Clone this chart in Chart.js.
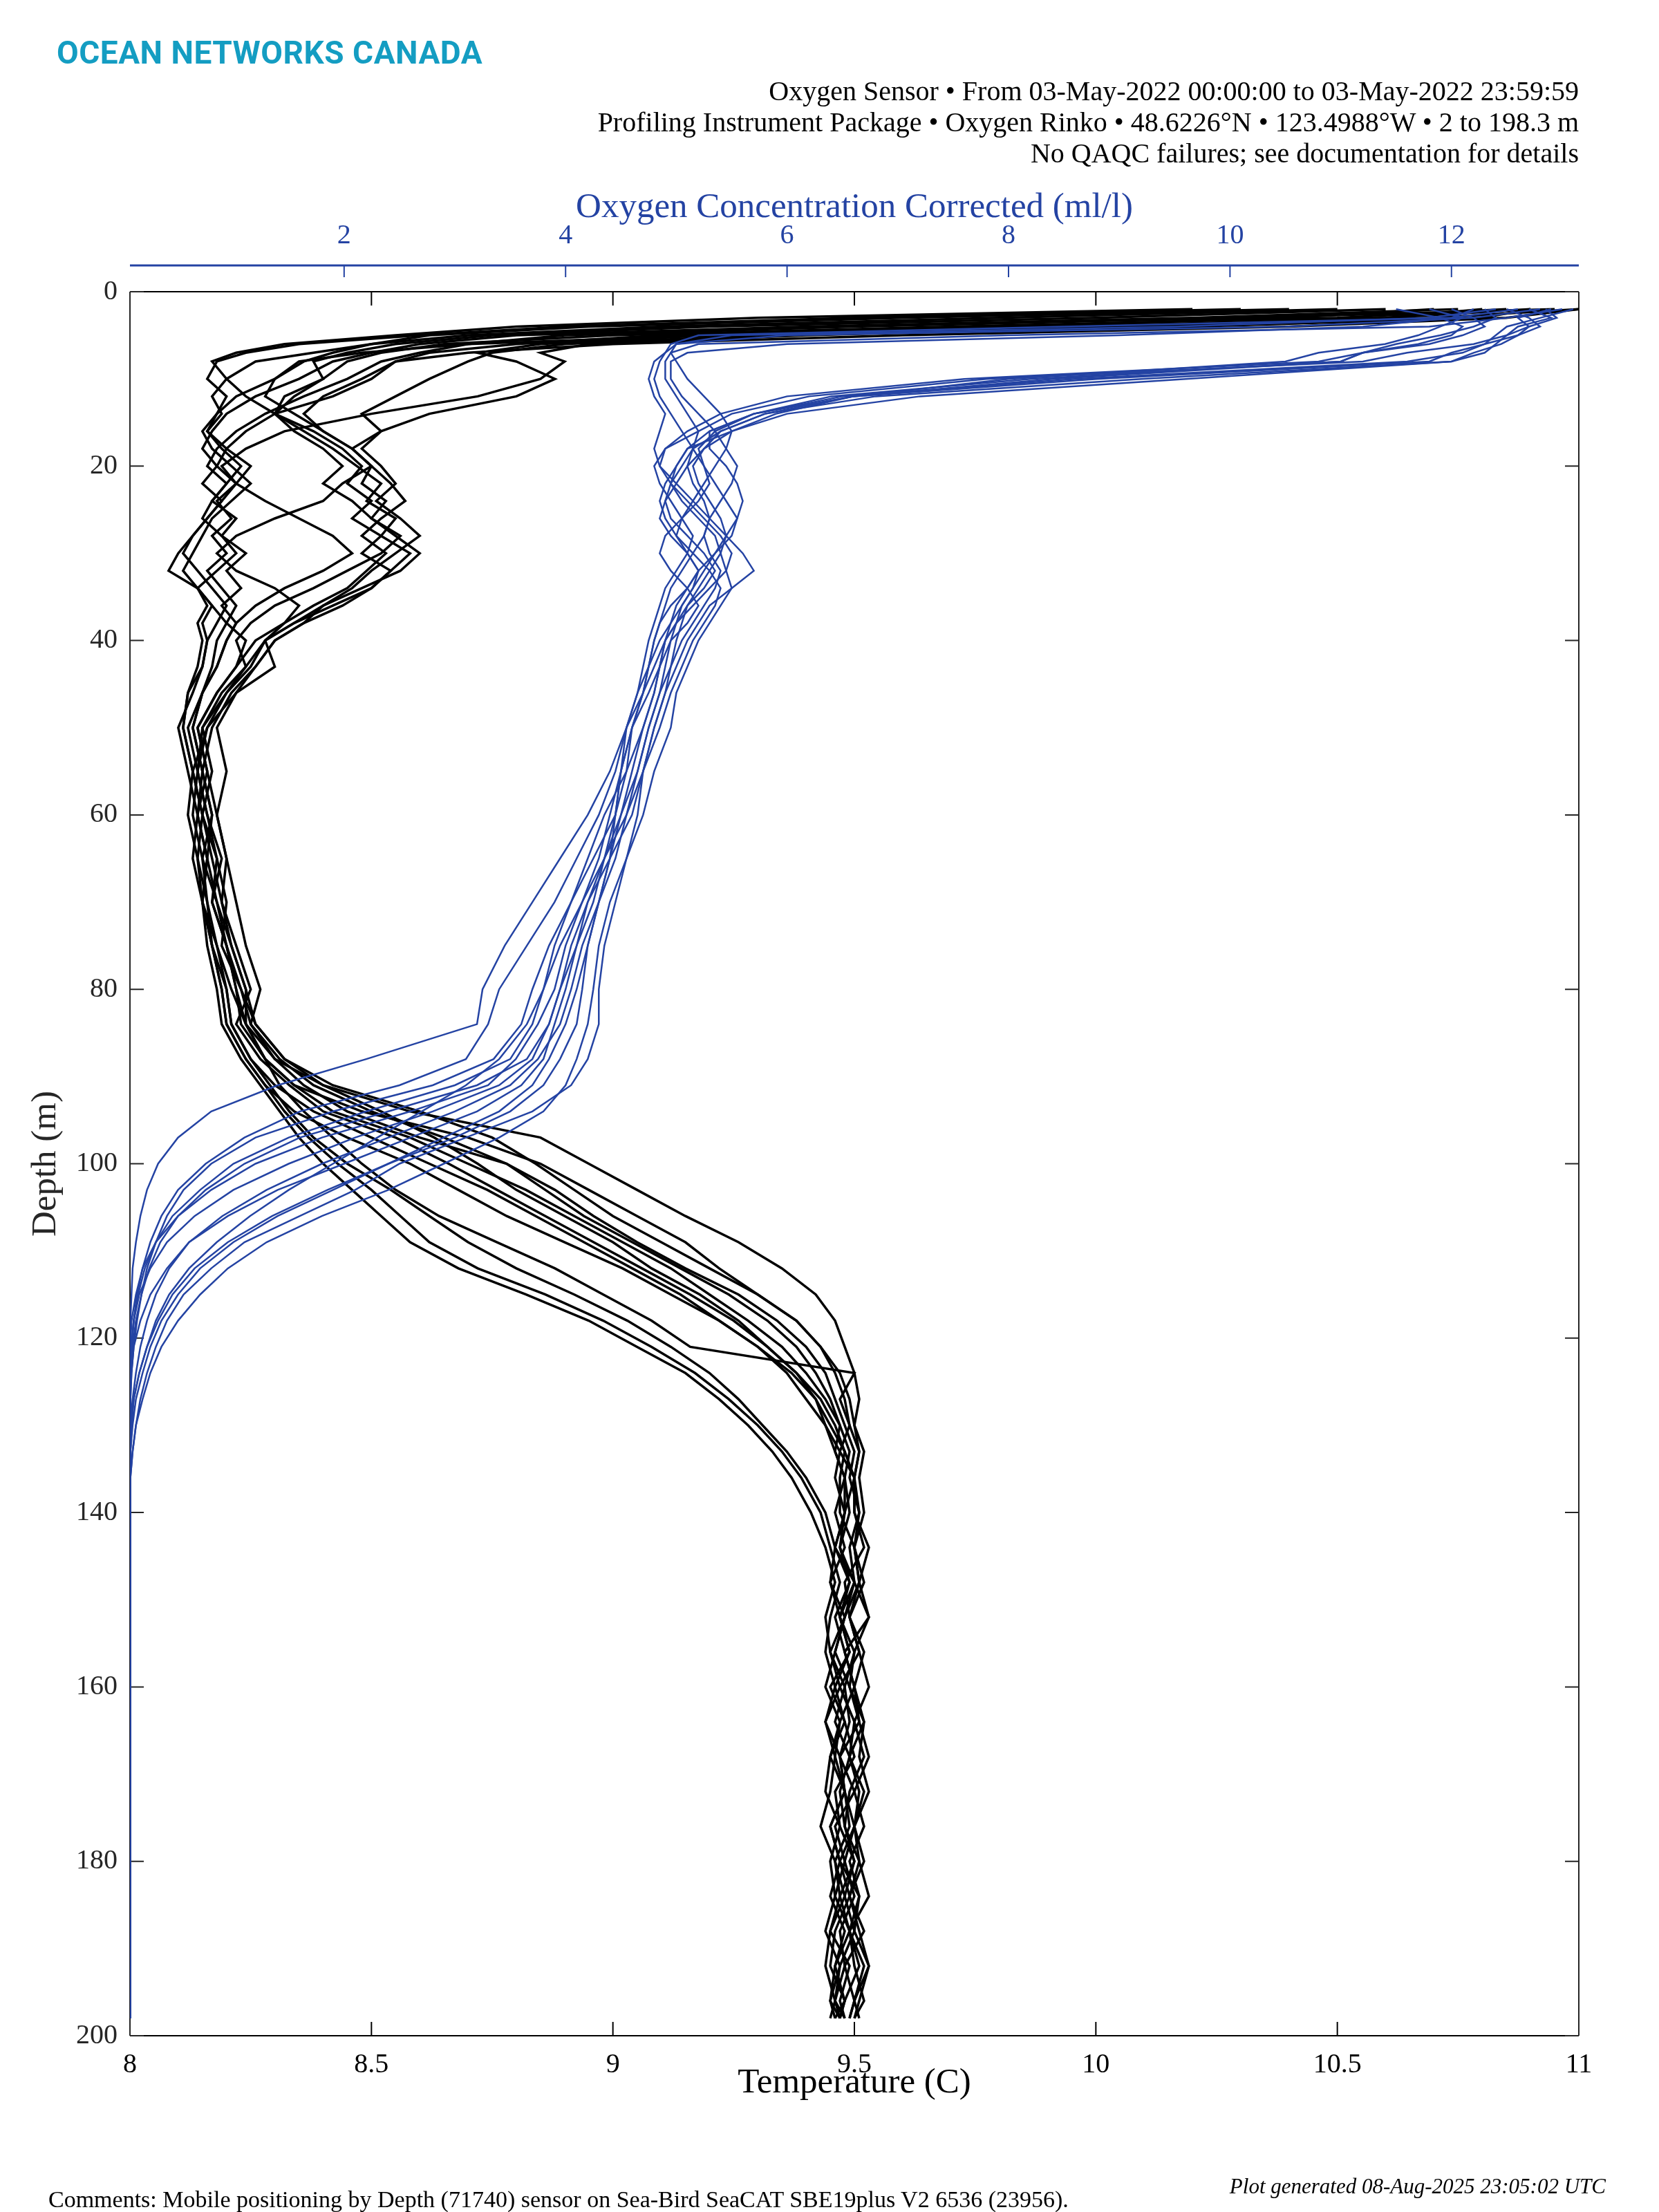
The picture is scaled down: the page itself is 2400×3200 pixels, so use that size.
<!DOCTYPE html>
<html>
<head>
<meta charset="utf-8">
<title>Oxygen Sensor profiles</title>
<script src="https://cdn.jsdelivr.net/npm/chart.js"></script>
<style>
  html, body { margin: 0; padding: 0; background: #fff; }
  #wrap { position: relative; width: 2400px; height: 3200px; }
  #chart { position: absolute; left: 0; top: 0; }
  .t { position: absolute; white-space: nowrap; line-height: 1; font-family: "Liberation Serif", serif; color: #000; }
  .logo { left: 82px; top: 53px; font: 700 46px Roboto, sans-serif; letter-spacing: 0.5px; color: #149dc2; line-height: 1; position: absolute; white-space: nowrap; }
  .hdr { right: 116px; font-size: 40px; }
  .cmt { left: 70px; top: 3165px; font-size: 34px; }
  .gen { right: 77px; top: 3147px; font-size: 31px; font-style: italic; }
</style>
</head>
<body>
<div id="wrap">
  <canvas id="chart" width="2400" height="3200"></canvas>
  <div class="logo">OCEAN NETWORKS CANADA</div>
  <div class="t hdr" style="top:112px">Oxygen Sensor • From 03-May-2022 00:00:00 to 03-May-2022 23:59:59</div>
  <div class="t hdr" style="top:157px">Profiling Instrument Package • Oxygen Rinko • 48.6226°N • 123.4988°W • 2 to 198.3 m</div>
  <div class="t hdr" style="top:202px">No QAQC failures; see documentation for details</div>
  <div class="t cmt">Comments: Mobile positioning by Depth (71740) sensor on Sea-Bird SeaCAT SBE19plus V2 6536 (23956).</div>
  <div class="t gen">Plot generated 08-Aug-2025 23:05:02 UTC</div>
</div>
<script>
// depth levels (m) shared by every cast
const DEPTH = [2, 3, 4, 5, 6, 7, 8,
  10, 12, 14, 16, 18, 20, 22, 24, 26, 28, 30, 32, 34, 36, 38, 40,
  43, 46, 50, 55, 60, 65, 70, 75, 80,
  84, 88, 91, 94, 97, 100, 103, 106, 109, 112, 115, 118, 121, 124, 127, 130, 133, 136,
  140, 144, 148, 152, 156, 160, 164, 168, 172, 176, 180, 184, 188, 192, 196, 198];

const TEMP_TICKS = [8, 8.5, 9, 9.5, 10, 10.5, 11];
const OXY_TICKS = [2, 4, 6, 8, 10, 12];
const DEPTH_TICKS = [0, 20, 40, 60, 80, 100, 120, 140, 160, 180, 200];

// temperature (C), one array per cast
const temp01 = [11.00, 10.70, 9.90, 9.10, 8.80, 8.62, 8.55,
  8.48, 8.40, 8.36, 8.40, 8.46, 8.50, 8.48, 8.53, 8.50, 8.56, 8.52, 8.45, 8.38, 8.30, 8.25, 8.22,
  8.24, 8.20, 8.15, 8.17, 8.15, 8.18, 8.20, 8.19, 8.23,
  8.26, 8.32, 8.40, 8.52, 8.63, 8.72, 8.80, 8.90, 9.00, 9.08, 9.18, 9.26, 9.32, 9.38, 9.42, 9.44, 9.47, 9.46,
  9.48, 9.46, 9.50, 9.47, 9.49, 9.45, 9.48, 9.50, 9.46, 9.47, 9.50, 9.48, 9.45, 9.49, 9.47, 9.48];
const temp02 = [10.95, 10.30, 9.50, 8.90, 8.70, 8.60, 8.52,
  8.45, 8.36, 8.28, 8.22, 8.18, 8.16, 8.20, 8.17, 8.22, 8.19, 8.24, 8.20, 8.23, 8.19, 8.22, 8.20,
  8.18, 8.15, 8.13, 8.15, 8.17, 8.15, 8.18, 8.21, 8.24,
  8.24, 8.30, 8.36, 8.45, 8.60, 8.78, 8.88, 8.96, 9.05, 9.15, 9.26, 9.34, 9.40, 9.44, 9.46, 9.48, 9.50, 9.49,
  9.51, 9.49, 9.50, 9.53, 9.48, 9.50, 9.52, 9.49, 9.51, 9.50, 9.47, 9.51, 9.49, 9.52, 9.50, 9.49];
const temp03 = [10.90, 10.80, 10.20, 9.30, 8.90, 8.75, 8.70,
  8.62, 8.55, 8.48, 8.52, 8.46, 8.50, 8.44, 8.40, 8.30, 8.22, 8.18, 8.22, 8.30, 8.35, 8.32, 8.28,
  8.30, 8.22, 8.16, 8.14, 8.16, 8.19, 8.17, 8.20, 8.22,
  8.24, 8.28, 8.34, 8.48, 8.70, 8.85, 8.95, 9.05, 9.15, 9.22, 9.30, 9.38, 9.43, 9.47, 9.49, 9.50, 9.51, 9.50,
  9.50, 9.52, 9.48, 9.49, 9.51, 9.47, 9.50, 9.52, 9.49, 9.48, 9.51, 9.49, 9.52, 9.48, 9.50, 9.49];
const temp04 = [10.85, 10.50, 9.70, 9.00, 8.65, 8.52, 8.45,
  8.40, 8.34, 8.30, 8.36, 8.42, 8.47, 8.52, 8.49, 8.55, 8.52, 8.58, 8.54, 8.50, 8.42, 8.34, 8.28,
  8.25, 8.20, 8.16, 8.13, 8.15, 8.17, 8.19, 8.22, 8.25,
  8.22, 8.27, 8.33, 8.40, 8.55, 8.66, 8.76, 8.86, 8.96, 9.06, 9.16, 9.25, 9.32, 9.38, 9.43, 9.46, 9.48, 9.47,
  9.47, 9.50, 9.51, 9.48, 9.46, 9.49, 9.51, 9.47, 9.48, 9.50, 9.48, 9.46, 9.49, 9.51, 9.48, 9.47];
const temp05 = [10.80, 10.60, 10.10, 9.40, 8.95, 8.85, 8.90,
  8.85, 8.72, 8.50, 8.32, 8.24, 8.19, 8.22, 8.18, 8.21, 8.17, 8.20, 8.16, 8.19, 8.22, 8.20, 8.24,
  8.22, 8.18, 8.14, 8.16, 8.14, 8.16, 8.15, 8.18, 8.20,
  8.21, 8.25, 8.30, 8.38, 8.50, 8.62, 8.74, 8.84, 8.94, 9.04, 9.14, 9.22, 9.30, 9.36, 9.40, 9.44, 9.46, 9.48,
  9.48, 9.47, 9.49, 9.46, 9.48, 9.50, 9.47, 9.45, 9.48, 9.49, 9.46, 9.48, 9.50, 9.47, 9.46, 9.48];
const temp06 = [10.75, 10.20, 9.40, 8.80, 8.60, 8.50, 8.42,
  8.35, 8.26, 8.20, 8.17, 8.15, 8.18, 8.15, 8.19, 8.16, 8.13, 8.10, 8.08, 8.14, 8.17, 8.15, 8.16,
  8.15, 8.12, 8.11, 8.13, 8.15, 8.14, 8.16, 8.17, 8.19,
  8.20, 8.24, 8.28, 8.34, 8.45, 8.58, 8.68, 8.78, 8.90, 9.02, 9.12, 9.22, 9.30, 9.37, 9.42, 9.45, 9.48, 9.50,
  9.51, 9.50, 9.52, 9.49, 9.51, 9.53, 9.50, 9.49, 9.52, 9.50, 9.51, 9.53, 9.49, 9.50, 9.52, 9.50];
const temp07 = [10.70, 10.40, 9.80, 9.20, 8.85, 8.72, 8.80,
  8.88, 8.80, 8.62, 8.52, 8.48, 8.52, 8.55, 8.51, 8.56, 8.60, 8.55, 8.50, 8.46, 8.40, 8.36, 8.30,
  8.26, 8.22, 8.18, 8.20, 8.18, 8.20, 8.22, 8.24, 8.27,
  8.25, 8.30, 8.40, 8.58, 8.85, 8.95, 9.05, 9.15, 9.26, 9.35, 9.42, 9.46, 9.48, 9.50, 9.51, 9.50, 9.52, 9.51,
  9.52, 9.50, 9.51, 9.53, 9.50, 9.49, 9.52, 9.51, 9.53, 9.50, 9.52, 9.49, 9.51, 9.53, 9.50, 9.51];
const temp08 = [10.60, 10.00, 9.20, 8.75, 8.55, 8.45, 8.38,
  8.40, 8.32, 8.30, 8.34, 8.40, 8.44, 8.40, 8.46, 8.50, 8.55, 8.60, 8.56, 8.48, 8.40, 8.34, 8.28,
  8.24, 8.19, 8.15, 8.14, 8.16, 8.18, 8.17, 8.20, 8.22,
  8.23, 8.28, 8.34, 8.42, 8.58, 8.70, 8.82, 8.92, 9.02, 9.12, 9.20, 9.28, 9.35, 9.40, 9.44, 9.47, 9.49, 9.48,
  9.49, 9.47, 9.50, 9.48, 9.45, 9.48, 9.49, 9.47, 9.50, 9.46, 9.48, 9.50, 9.47, 9.48, 9.46, 9.47];
const temp09 = [10.50, 9.80, 9.10, 8.70, 8.50, 8.38, 8.26,
  8.20, 8.17, 8.19, 8.16, 8.19, 8.23, 8.20, 8.17, 8.15, 8.19, 8.22, 8.18, 8.14, 8.17, 8.20, 8.18,
  8.17, 8.15, 8.13, 8.15, 8.17, 8.16, 8.18, 8.20, 8.23,
  8.25, 8.31, 8.38, 8.50, 8.65, 8.78, 8.86, 8.94, 9.04, 9.14, 9.24, 9.32, 9.38, 9.42, 9.45, 9.47, 9.46, 9.48,
  9.46, 9.48, 9.45, 9.47, 9.49, 9.46, 9.44, 9.47, 9.48, 9.45, 9.47, 9.49, 9.46, 9.45, 9.48, 9.46];
const temp10 = [10.40, 9.60, 8.95, 8.62, 8.50, 8.42, 8.36,
  8.30, 8.28, 8.34, 8.40, 8.46, 8.50, 8.54, 8.57, 8.52, 8.48, 8.53, 8.49, 8.45, 8.38, 8.32, 8.26,
  8.22, 8.18, 8.14, 8.16, 8.18, 8.20, 8.19, 8.21, 8.24,
  8.26, 8.32, 8.42, 8.60, 8.75, 8.84, 8.92, 9.00, 9.10, 9.20, 9.30, 9.38, 9.43, 9.46, 9.48, 9.49, 9.51, 9.50,
  9.50, 9.53, 9.51, 9.49, 9.52, 9.50, 9.51, 9.53, 9.50, 9.52, 9.49, 9.51, 9.50, 9.53, 9.51, 9.50];
const temp11 = [10.30, 9.50, 8.90, 8.60, 8.35, 8.24, 8.18,
  8.16, 8.20, 8.18, 8.15, 8.17, 8.21, 8.25, 8.21, 8.17, 8.15, 8.13, 8.11, 8.14, 8.16, 8.14, 8.15,
  8.14, 8.12, 8.11, 8.13, 8.12, 8.14, 8.15, 8.16, 8.18,
  8.19, 8.23, 8.27, 8.31, 8.35, 8.40, 8.46, 8.52, 8.58, 8.68, 8.82, 8.95, 9.05, 9.15, 9.22, 9.28, 9.33, 9.37,
  9.41, 9.44, 9.46, 9.44, 9.45, 9.47, 9.44, 9.46, 9.45, 9.43, 9.46, 9.47, 9.45, 9.44, 9.46, 9.45];
const temp12 = [10.20, 9.30, 8.80, 8.55, 8.32, 8.22, 8.17,
  8.20, 8.24, 8.30, 8.38, 8.44, 8.48, 8.45, 8.50, 8.46, 8.52, 8.48, 8.54, 8.50, 8.44, 8.36, 8.30,
  8.26, 8.21, 8.17, 8.15, 8.14, 8.16, 8.15, 8.17, 8.19,
  8.20, 8.24, 8.28, 8.32, 8.37, 8.43, 8.50, 8.56, 8.62, 8.72, 8.86, 8.98, 9.08, 9.17, 9.24, 9.30, 9.35, 9.39,
  9.43, 9.45, 9.47, 9.45, 9.44, 9.46, 9.48, 9.45, 9.44, 9.47, 9.45, 9.46, 9.44, 9.47, 9.45, 9.46];
const temp13 = [10.90, 10.60, 10.00, 9.20, 8.70, 8.48, 8.35,
  8.30, 8.22, 8.18, 8.16, 8.20, 8.25, 8.22, 8.19, 8.16, 8.13, 8.11, 8.14, 8.17, 8.20, 8.18, 8.16,
  8.15, 8.13, 8.10, 8.12, 8.14, 8.13, 8.15, 8.17, 8.20,
  8.21, 8.25, 8.29, 8.33, 8.38, 8.45, 8.54, 8.62, 8.70, 8.80, 8.92, 9.03, 9.12, 9.20, 9.26, 9.31, 9.36, 9.40,
  9.44, 9.46, 9.45, 9.48, 9.46, 9.44, 9.47, 9.46, 9.48, 9.45, 9.47, 9.45, 9.48, 9.46, 9.45, 9.47];
const temp14 = [11.00, 10.85, 10.40, 9.60, 9.00, 8.70, 8.55,
  8.50, 8.42, 8.30, 8.24, 8.20, 8.18, 8.22, 8.28, 8.35, 8.42, 8.46, 8.40, 8.32, 8.26, 8.22, 8.20,
  8.18, 8.15, 8.12, 8.14, 8.13, 8.15, 8.16, 8.18, 8.21,
  8.24, 8.28, 8.31, 8.36, 8.42, 8.48, 8.55, 8.64, 8.76, 8.88, 8.98, 9.08, 9.16, 9.50, 9.47, 9.49, 9.47, 9.50,
  9.48, 9.46, 9.49, 9.47, 9.50, 9.48, 9.46, 9.49, 9.47, 9.48, 9.50, 9.47, 9.49, 9.46, 9.48, 9.47];

// oxygen concentration corrected (ml/l), one array per cast
const oxy01 = [13.10, 12.80, 12.50, 12.40, 12.30, 12.10, 11.60,
  8.60, 6.50, 5.70, 5.30, 5.10, 5.00, 4.95, 5.05, 5.20, 5.35, 5.40, 5.30, 5.20, 5.10, 5.05, 5.00,
  4.95, 4.90, 4.80, 4.70, 4.60, 4.40, 4.20, 4.05, 3.95,
  3.85, 3.70, 3.40, 2.80, 2.10, 1.50, 1.00, 0.65, 0.40, 0.25, 0.15, 0.10, 0.08, 0.07, 0.07, 0.07, 0.07, 0.07,
  0.07, 0.07, 0.07, 0.07, 0.07, 0.07, 0.07, 0.07, 0.07, 0.07, 0.07, 0.07, 0.07, 0.07, 0.07, 0.07];
const oxy02 = [12.90, 12.60, 12.70, 12.50, 12.20, 11.60, 11.20,
  7.80, 6.20, 5.50, 5.20, 4.90, 4.85, 4.95, 5.10, 5.25, 5.40, 5.50, 5.45, 5.30, 5.15, 5.00, 4.90,
  4.85, 4.80, 4.70, 4.60, 4.50, 4.35, 4.20, 4.10, 4.00,
  3.90, 3.80, 3.60, 3.20, 2.60, 2.00, 1.40, 0.95, 0.60, 0.40, 0.25, 0.16, 0.10, 0.08, 0.07, 0.07, 0.07, 0.07,
  0.07, 0.07, 0.07, 0.07, 0.07, 0.07, 0.07, 0.07, 0.07, 0.07, 0.07, 0.07, 0.07, 0.07, 0.07, 0.07];
const oxy03 = [12.80, 12.20, 10.50, 6.00, 5.00, 4.90, 4.85,
  4.80, 4.85, 4.95, 5.05, 5.15, 5.25, 5.30, 5.20, 5.05, 4.90, 4.85, 4.95, 5.10, 5.20, 5.10, 4.95,
  4.85, 4.75, 4.60, 4.50, 4.45, 4.40, 4.30, 4.20, 4.10,
  4.00, 3.85, 3.70, 3.40, 2.90, 2.40, 1.90, 1.40, 1.00, 0.70, 0.50, 0.35, 0.25, 0.18, 0.12, 0.09, 0.07, 0.07,
  0.07, 0.07, 0.07, 0.07, 0.07, 0.07, 0.07, 0.07, 0.07, 0.07, 0.07, 0.07, 0.07, 0.07, 0.07, 0.07];
const oxy04 = [12.60, 12.00, 8.50, 5.20, 4.95, 4.90, 4.80,
  4.75, 4.80, 4.90, 4.85, 4.80, 4.85, 5.00, 5.15, 5.30, 5.45, 5.60, 5.70, 5.50, 5.30, 5.20, 5.10,
  5.00, 4.90, 4.80, 4.70, 4.65, 4.55, 4.40, 4.30, 4.25,
  4.20, 4.10, 4.00, 3.80, 3.40, 2.90, 2.40, 1.80, 1.30, 0.95, 0.70, 0.50, 0.35, 0.25, 0.18, 0.12, 0.09, 0.07,
  0.07, 0.07, 0.07, 0.07, 0.07, 0.07, 0.07, 0.07, 0.07, 0.07, 0.07, 0.07, 0.07, 0.07, 0.07, 0.07];
const oxy05 = [13.00, 12.50, 11.80, 8.00, 5.20, 4.95, 4.90,
  4.90, 5.00, 5.10, 5.20, 5.15, 5.05, 4.95, 4.90, 4.95, 5.10, 5.25, 5.35, 5.25, 5.10, 5.00, 4.90,
  4.80, 4.70, 4.60, 4.50, 4.40, 4.30, 4.15, 4.00, 3.90,
  3.75, 3.55, 3.30, 2.60, 1.80, 1.20, 0.80, 0.50, 0.30, 0.18, 0.12, 0.08, 0.07, 0.07, 0.07, 0.07, 0.07, 0.07,
  0.07, 0.07, 0.07, 0.07, 0.07, 0.07, 0.07, 0.07, 0.07, 0.07, 0.07, 0.07, 0.07, 0.07, 0.07, 0.07];
const oxy06 = [12.70, 12.90, 12.60, 12.50, 12.40, 12.30, 12.00,
  9.20, 6.80, 5.80, 5.40, 5.25, 5.10, 5.00, 4.90, 4.85, 4.95, 5.10, 5.20, 5.10, 4.95, 4.85, 4.80,
  4.75, 4.70, 4.55, 4.40, 4.20, 3.95, 3.70, 3.45, 3.25,
  3.20, 2.20, 1.40, 0.80, 0.50, 0.32, 0.22, 0.16, 0.12, 0.09, 0.08, 0.07, 0.07, 0.07, 0.07, 0.07, 0.07, 0.07,
  0.07, 0.07, 0.07, 0.07, 0.07, 0.07, 0.07, 0.07, 0.07, 0.07, 0.07, 0.07, 0.07, 0.07, 0.07, 0.07];
const oxy07 = [12.50, 12.70, 12.80, 12.60, 12.30, 12.00, 11.80,
  8.80, 6.60, 5.70, 5.35, 5.20, 5.25, 5.35, 5.45, 5.55, 5.50, 5.35, 5.20, 5.10, 5.00, 4.95, 4.90,
  4.85, 4.80, 4.70, 4.55, 4.35, 4.20, 4.05, 3.90, 3.80,
  3.70, 3.50, 3.00, 2.20, 1.50, 1.00, 0.70, 0.45, 0.30, 0.20, 0.14, 0.10, 0.08, 0.07, 0.07, 0.07, 0.07, 0.07,
  0.07, 0.07, 0.07, 0.07, 0.07, 0.07, 0.07, 0.07, 0.07, 0.07, 0.07, 0.07, 0.07, 0.07, 0.07, 0.07];
const oxy08 = [12.30, 12.40, 12.20, 11.90, 11.50, 11.20, 10.80,
  7.60, 6.00, 5.40, 5.10, 4.90, 4.80, 4.85, 4.95, 5.05, 5.15, 5.10, 5.00, 4.90, 4.85, 4.80, 4.75,
  4.70, 4.65, 4.55, 4.45, 4.30, 4.10, 3.90, 3.65, 3.40,
  3.30, 3.10, 2.50, 1.60, 1.10, 0.75, 0.50, 0.35, 0.25, 0.18, 0.13, 0.10, 0.08, 0.07, 0.07, 0.07, 0.07, 0.07,
  0.07, 0.07, 0.07, 0.07, 0.07, 0.07, 0.07, 0.07, 0.07, 0.07, 0.07, 0.07, 0.07, 0.07, 0.07, 0.07];
const oxy09 = [12.00, 12.20, 12.30, 12.10, 11.80, 11.20, 11.00,
  8.20, 6.40, 5.70, 5.30, 5.30, 5.45, 5.55, 5.60, 5.55, 5.45, 5.40, 5.45, 5.50, 5.40, 5.30, 5.20,
  5.10, 5.00, 4.95, 4.80, 4.70, 4.55, 4.45, 4.35, 4.30,
  4.30, 4.20, 4.05, 3.70, 3.10, 2.50, 2.10, 1.60, 1.10, 0.80, 0.55, 0.40, 0.30, 0.22, 0.16, 0.12, 0.09, 0.07,
  0.07, 0.07, 0.07, 0.07, 0.07, 0.07, 0.07, 0.07, 0.07, 0.07, 0.07, 0.07, 0.07, 0.07, 0.07, 0.07];
const oxy10 = [11.80, 12.10, 11.90, 11.70, 11.40, 10.80, 10.50,
  8.00, 6.60, 5.90, 5.50, 5.25, 5.15, 5.20, 5.30, 5.40, 5.45, 5.35, 5.25, 5.15, 5.05, 5.00, 4.95,
  4.90, 4.85, 4.75, 4.65, 4.55, 4.45, 4.30, 4.15, 4.05,
  3.95, 3.75, 3.50, 3.00, 2.40, 1.80, 1.30, 0.90, 0.60, 0.42, 0.30, 0.22, 0.16, 0.12, 0.09, 0.07, 0.07, 0.07,
  0.07, 0.07, 0.07, 0.07, 0.07, 0.07, 0.07, 0.07, 0.07, 0.07, 0.07, 0.07, 0.07, 0.07, 0.07, 0.07];
const oxy11 = [12.40, 11.80, 9.50, 5.50, 5.00, 4.95, 5.00,
  5.10, 5.25, 5.40, 5.50, 5.45, 5.35, 5.25, 5.15, 5.05, 5.00, 5.10, 5.20, 5.15, 5.05, 4.95, 4.85,
  4.75, 4.65, 4.55, 4.50, 4.45, 4.35, 4.25, 4.10, 3.95,
  3.85, 3.65, 3.20, 2.40, 1.60, 1.10, 0.75, 0.50, 0.34, 0.24, 0.17, 0.12, 0.09, 0.07, 0.07, 0.07, 0.07, 0.07,
  0.07, 0.07, 0.07, 0.07, 0.07, 0.07, 0.07, 0.07, 0.07, 0.07, 0.07, 0.07, 0.07, 0.07, 0.07, 0.07];
const oxy12 = [12.85, 12.95, 12.70, 12.60, 12.45, 12.20, 12.00,
  9.60, 7.20, 6.00, 5.50, 5.10, 5.00, 4.90, 4.85, 4.90, 5.00, 5.15, 5.30, 5.40, 5.35, 5.25, 5.15,
  5.05, 4.95, 4.85, 4.70, 4.55, 4.35, 4.15, 3.95, 3.80,
  3.65, 3.40, 3.10, 2.70, 2.30, 1.90, 1.50, 1.15, 0.85, 0.60, 0.42, 0.30, 0.22, 0.15, 0.10, 0.08, 0.07, 0.07,
  0.07, 0.07, 0.07, 0.07, 0.07, 0.07, 0.07, 0.07, 0.07, 0.07, 0.07, 0.07, 0.07, 0.07, 0.07, 0.07];
const oxy13 = [11.50, 11.90, 12.10, 12.00, 11.70, 11.20, 11.00,
  8.40, 6.60, 5.80, 5.40, 5.15, 5.10, 5.15, 5.25, 5.30, 5.25, 5.15, 5.05, 4.95, 4.90, 4.85, 4.80,
  4.75, 4.70, 4.60, 4.55, 4.45, 4.25, 4.05, 3.85, 3.70,
  3.60, 3.35, 2.80, 1.90, 1.20, 0.80, 0.55, 0.40, 0.30, 0.22, 0.17, 0.13, 0.10, 0.08, 0.07, 0.07, 0.07, 0.07,
  0.07, 0.07, 0.07, 0.07, 0.07, 0.07, 0.07, 0.07, 0.07, 0.07, 0.07, 0.07, 0.07, 0.07, 0.07, 0.07];
const oxy14 = [12.20, 12.00, 11.20, 9.00, 6.00, 5.10, 4.95,
  4.95, 5.05, 5.20, 5.35, 5.45, 5.55, 5.50, 5.40, 5.30, 5.25, 5.30, 5.40, 5.35, 5.25, 5.15, 5.05,
  4.95, 4.85, 4.75, 4.65, 4.50, 4.40, 4.30, 4.20, 4.15,
  4.10, 3.95, 3.80, 3.50, 3.00, 2.40, 1.85, 1.35, 0.95, 0.65, 0.45, 0.32, 0.22, 0.15, 0.10, 0.08, 0.07, 0.07,
  0.07, 0.07, 0.07, 0.07, 0.07, 0.07, 0.07, 0.07, 0.07, 0.07, 0.07, 0.07, 0.07, 0.07, 0.07, 0.07];

const TEMP_CASTS = [temp01, temp02, temp03, temp04, temp05, temp06, temp07,
  temp08, temp09, temp10, temp11, temp12, temp13, temp14];
const OXY_CASTS = [oxy01, oxy02, oxy03, oxy04, oxy05, oxy06, oxy07,
  oxy08, oxy09, oxy10, oxy11, oxy12, oxy13, oxy14];

const BLUE = '#2443a3';
const AXIS_GREY = '#262626';
const SERIF = "'Liberation Serif', 'Times New Roman', serif";

function castPoints(values) {
  return values.map((v, i) => ({ x: v, y: DEPTH[i] }));
}

// oxygen first so it is painted over temperature
const datasets = [];
OXY_CASTS.forEach(c => datasets.push({
  data: castPoints(c), xAxisID: 'x2', yAxisID: 'y',
  showLine: true, borderColor: BLUE, borderWidth: 2.5, pointRadius: 0
}));
TEMP_CASTS.forEach(c => datasets.push({
  data: castPoints(c), xAxisID: 'x', yAxisID: 'y',
  showLine: true, borderColor: '#000', borderWidth: 3.5, pointRadius: 0
}));

// box, inward ticks and the detached oxygen axis line
const frame = {
  id: 'frame',
  beforeDatasetsDraw(chart) {
    const { ctx, chartArea: a, scales } = chart;
    ctx.save();
    ctx.lineWidth = 2;
    ctx.strokeStyle = '#000';
    ctx.beginPath();
    ctx.moveTo(a.left, a.top); ctx.lineTo(a.right, a.top);
    ctx.moveTo(a.left, a.bottom); ctx.lineTo(a.right, a.bottom);
    TEMP_TICKS.forEach(v => {
      const px = scales.x.getPixelForValue(v);
      ctx.moveTo(px, a.top); ctx.lineTo(px, a.top + 20);
      ctx.moveTo(px, a.bottom); ctx.lineTo(px, a.bottom - 20);
    });
    ctx.stroke();

    ctx.strokeStyle = AXIS_GREY;
    ctx.beginPath();
    ctx.moveTo(a.left, a.top); ctx.lineTo(a.left, a.bottom);
    ctx.moveTo(a.right, a.top); ctx.lineTo(a.right, a.bottom);
    DEPTH_TICKS.forEach(v => {
      const py = scales.y.getPixelForValue(v);
      ctx.moveTo(a.left, py); ctx.lineTo(a.left + 20, py);
      ctx.moveTo(a.right, py); ctx.lineTo(a.right - 20, py);
    });
    ctx.stroke();

    const oy = a.top - 38;
    ctx.strokeStyle = BLUE;
    ctx.lineWidth = 3;
    ctx.beginPath();
    ctx.moveTo(a.left, oy); ctx.lineTo(a.right, oy);
    ctx.stroke();
    ctx.lineWidth = 2;
    ctx.beginPath();
    OXY_TICKS.forEach(v => {
      const px = scales.x2.getPixelForValue(v);
      ctx.moveTo(px, oy); ctx.lineTo(px, oy + 17);
    });
    ctx.stroke();
    ctx.restore();
  }
};

Chart.defaults.font.family = SERIF;

new Chart(document.getElementById('chart'), {
  type: 'scatter',
  data: { datasets: datasets },
  options: {
    responsive: false,
    animation: false,
    devicePixelRatio: 1,
    layout: { padding: { left: 0, right: 116, top: 250, bottom: 155 } },
    plugins: { legend: { display: false }, tooltip: { enabled: false } },
    elements: { point: { radius: 0 }, line: { tension: 0 } },
    scales: {
      x: {
        type: 'linear', position: 'bottom', min: 8, max: 11,
        afterBuildTicks: s => { s.ticks = TEMP_TICKS.map(v => ({ value: v })); },
        afterFit: s => { s.height = 100; },
        grid: { display: false, drawTicks: false },
        border: { display: false },
        ticks: { color: '#000', font: { size: 40 }, padding: 18, callback: v => String(v) },
        title: { display: true, text: 'Temperature (C)', color: '#000', font: { size: 51 }, padding: { top: 0, bottom: 1 } }
      },
      x2: {
        type: 'linear', position: 'top', min: 0.066, max: 13.15,
        afterBuildTicks: s => { s.ticks = OXY_TICKS.map(v => ({ value: v })); },
        afterFit: s => { s.height = 172; },
        grid: { display: false, drawTicks: false },
        border: { display: false },
        ticks: { color: BLUE, font: { size: 40 }, padding: 57, callback: v => String(v) },
        title: { display: true, text: 'Oxygen Concentration Corrected (ml/l)', color: BLUE, font: { size: 51 }, padding: { top: 20, bottom: 0 } }
      },
      y: {
        type: 'linear', position: 'left', reverse: true, min: 0, max: 200,
        afterBuildTicks: s => { s.ticks = DEPTH_TICKS.map(v => ({ value: v })); },
        afterFit: s => { s.width = 188; },
        grid: { display: false, drawTicks: false },
        border: { display: false },
        ticks: { color: AXIS_GREY, font: { size: 40 }, padding: 18, callback: v => String(v) },
        title: { display: true, text: 'Depth (m)', color: AXIS_GREY, font: { size: 51 }, padding: { top: 36, bottom: 0 } }
      }
    }
  },
  plugins: [frame]
});
</script>
</body>
</html>
